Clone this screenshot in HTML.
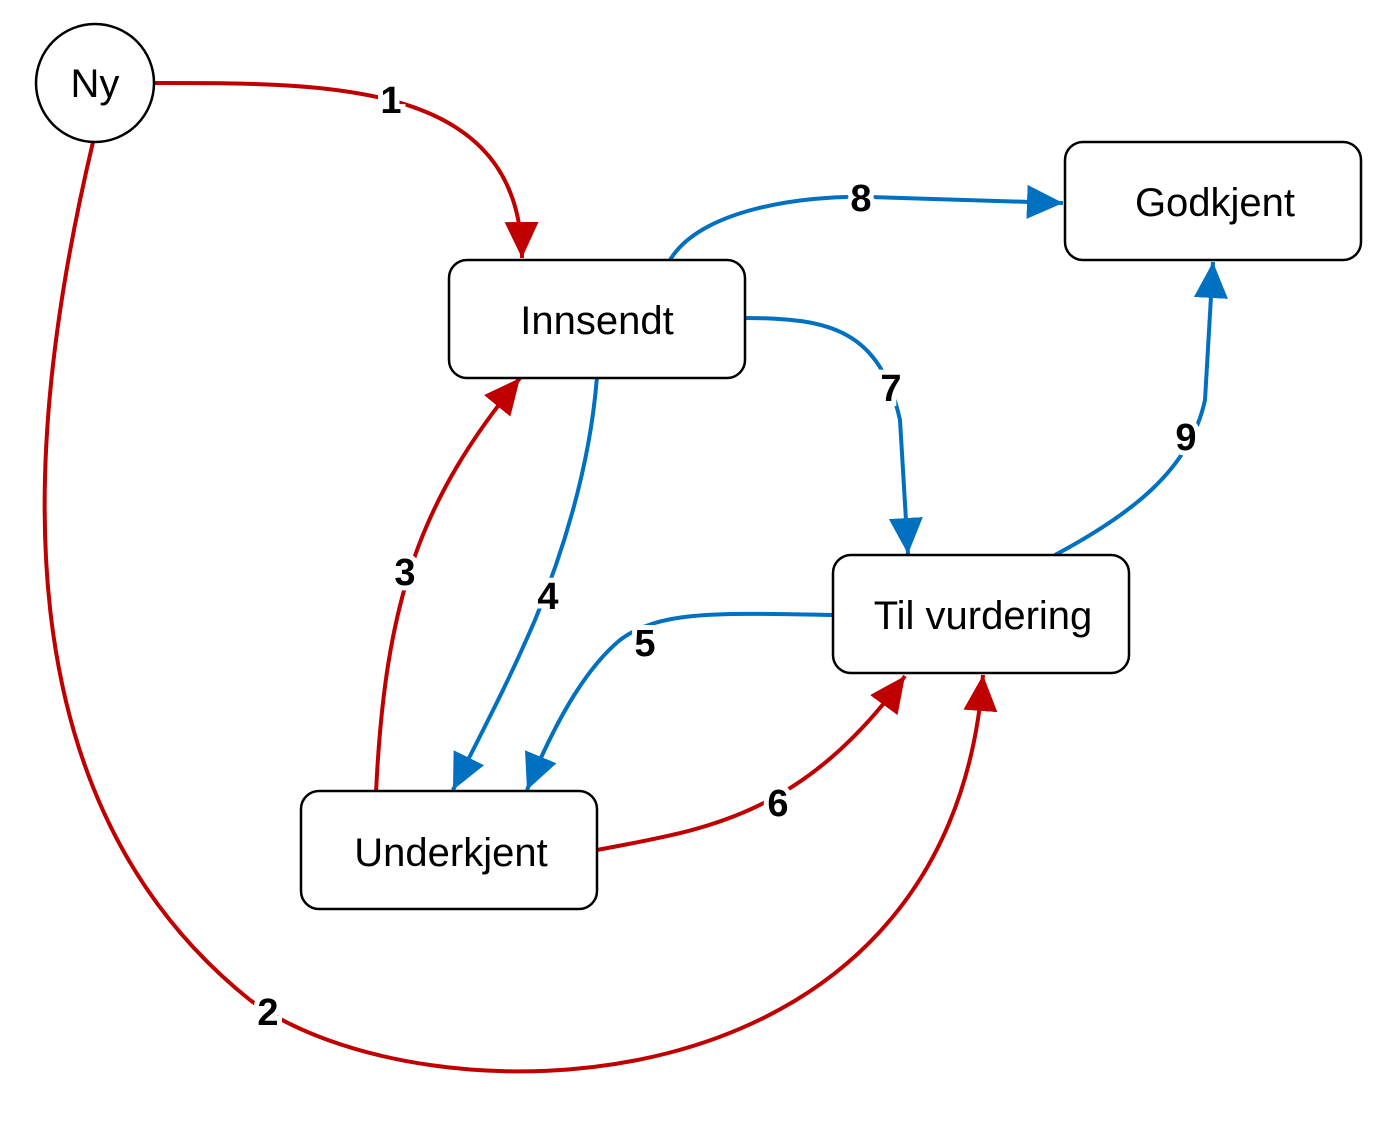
<!DOCTYPE html>
<html><head><meta charset="utf-8"><style>html,body{margin:0;padding:0;background:#fff}</style></head>
<body>
<svg width="1383" height="1117" viewBox="0 0 1383 1117" xmlns="http://www.w3.org/2000/svg">
<defs>
<marker id="r" markerUnits="userSpaceOnUse" markerWidth="36" markerHeight="36" refX="36" refY="17" orient="auto"><path d="M0,0 L36,17 L0,34 z" fill="#c00000"/></marker>
<marker id="b" markerUnits="userSpaceOnUse" markerWidth="36" markerHeight="36" refX="36" refY="17" orient="auto"><path d="M0,0 L36,17 L0,34 z" fill="#0070c0"/></marker>
</defs>
<g fill="none" stroke-width="4">
<path d="M153,83 C330,83 520,80 522,258" stroke="#c00000" marker-end="url(#r)"/>
<path d="M93,142 C20,450 0,800 250,1000 C420,1125 950,1125 983,675" stroke="#c00000" marker-end="url(#r)"/>
<path d="M376,793 C385,600 420,500 520,378" stroke="#c00000" marker-end="url(#r)"/>
<path d="M597,376 C590,470 560,560 535,620 C505,690 480,735 453,790" stroke="#0070c0" marker-end="url(#b)"/>
<path d="M833,615 C720,613 660,610 620,640 C590,665 560,710 527,790" stroke="#0070c0" marker-end="url(#b)"/>
<path d="M597,850 C700,830 800,820 905,676" stroke="#c00000" marker-end="url(#r)"/>
<path d="M745,318 C830,318 880,330 900,420 L908,554" stroke="#0070c0" marker-end="url(#b)"/>
<path d="M670,260 C700,210 800,195 870,197 L1063,203" stroke="#0070c0" marker-end="url(#b)"/>
<path d="M1055,555 C1130,515 1190,470 1205,400 L1213,262" stroke="#0070c0" marker-end="url(#b)"/>
</g>
<g fill="#fff" stroke="#000" stroke-width="2.5">
<circle cx="95" cy="83" r="59"/>
<rect x="449" y="260" width="296" height="118" rx="18"/>
<rect x="1065" y="142" width="296" height="118" rx="18"/>
<rect x="833" y="555" width="296" height="118" rx="18"/>
<rect x="301" y="791" width="296" height="118" rx="18"/>
</g>
<g font-family="Liberation Sans, sans-serif" font-size="40" text-anchor="middle" fill="#000">
<text x="95" y="97">Ny</text>
<text x="597" y="334">Innsendt</text>
<text x="1215" y="216">Godkjent</text>
<text x="983" y="629">Til vurdering</text>
<text x="451" y="866">Underkjent</text>
</g>
<g font-family="Liberation Sans, sans-serif" font-size="38" font-weight="bold" text-anchor="middle" fill="#000" stroke="#fff" stroke-width="10" paint-order="stroke">
<text x="391" y="113">1</text>
<text x="268" y="1025">2</text>
<text x="405" y="585">3</text>
<text x="548" y="609">4</text>
<text x="645" y="656">5</text>
<text x="778" y="816">6</text>
<text x="891" y="401">7</text>
<text x="861" y="211">8</text>
<text x="1186" y="450">9</text>
</g>
</svg>
</body></html>
